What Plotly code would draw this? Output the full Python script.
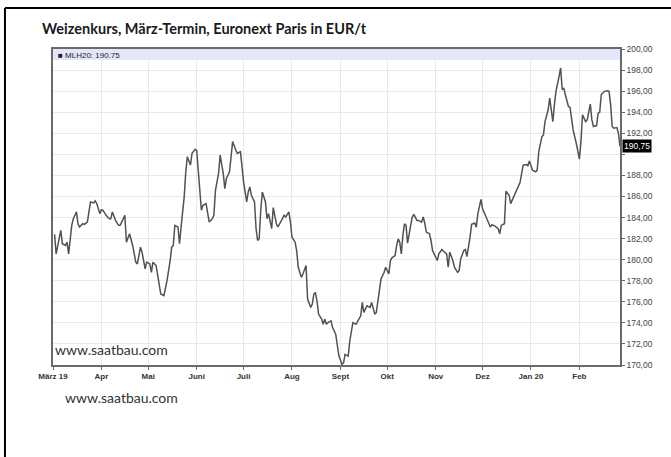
import plotly.graph_objects as go

# ---- data (MLH20 wheat future, EUR/t) ----
dates = [
    "2019-03-02","2019-03-03","2019-03-06","2019-03-07","2019-03-09","2019-03-10","2019-03-11","2019-03-13","2019-03-14","2019-03-16","2019-03-17","2019-03-18","2019-03-20","2019-03-21","2019-03-23","2019-03-24","2019-03-25","2019-03-27","2019-03-28","2019-03-29","2019-03-31",
    "2019-04-01","2019-04-02","2019-04-04","2019-04-06","2019-04-07","2019-04-08","2019-04-10","2019-04-12","2019-04-13","2019-04-15","2019-04-16","2019-04-17","2019-04-19","2019-04-21","2019-04-23","2019-04-24","2019-04-26","2019-04-27","2019-04-29","2019-04-30",
    "2019-05-02","2019-05-03","2019-05-04","2019-05-06","2019-05-08","2019-05-09","2019-05-11","2019-05-13","2019-05-15","2019-05-16","2019-05-17","2019-05-18","2019-05-20","2019-05-21","2019-05-22","2019-05-24","2019-05-25","2019-05-26","2019-05-28","2019-05-29","2019-05-31",
    "2019-06-01","2019-06-04","2019-06-05","2019-06-07","2019-06-09","2019-06-11","2019-06-12","2019-06-13","2019-06-15","2019-06-16","2019-06-18","2019-06-19","2019-06-20","2019-06-22","2019-06-23","2019-06-24","2019-06-26","2019-06-27","2019-06-29","2019-06-30",
    "2019-07-01","2019-07-03","2019-07-04","2019-07-05","2019-07-06","2019-07-08","2019-07-09","2019-07-10","2019-07-11","2019-07-12","2019-07-13","2019-07-15","2019-07-16","2019-07-17","2019-07-19","2019-07-20","2019-07-22","2019-07-23","2019-07-24","2019-07-26","2019-07-27","2019-07-28","2019-07-29","2019-07-30","2019-07-31",
    "2019-08-01","2019-08-03","2019-08-04","2019-08-05","2019-08-07","2019-08-08","2019-08-10","2019-08-11","2019-08-13","2019-08-14","2019-08-15","2019-08-16","2019-08-17","2019-08-18","2019-08-20","2019-08-21","2019-08-22","2019-08-23","2019-08-24","2019-08-26","2019-08-27","2019-08-29","2019-08-30","2019-08-31",
    "2019-09-02","2019-09-03","2019-09-04","2019-09-06","2019-09-07","2019-09-09","2019-09-11","2019-09-12","2019-09-14","2019-09-15","2019-09-16","2019-09-18","2019-09-20","2019-09-21","2019-09-23","2019-09-24","2019-09-26","2019-09-27","2019-09-29","2019-09-30",
    "2019-10-02","2019-10-03","2019-10-04","2019-10-06","2019-10-07","2019-10-08","2019-10-09","2019-10-10","2019-10-11","2019-10-12","2019-10-13","2019-10-14","2019-10-16","2019-10-17","2019-10-18","2019-10-20","2019-10-21","2019-10-23","2019-10-24","2019-10-25","2019-10-26","2019-10-28","2019-10-29","2019-10-30","2019-10-31",
    "2019-11-02","2019-11-03","2019-11-05","2019-11-06","2019-11-08","2019-11-09","2019-11-10","2019-11-12","2019-11-13","2019-11-15","2019-11-16","2019-11-17","2019-11-19","2019-11-20","2019-11-21","2019-11-23","2019-11-24","2019-11-26","2019-11-27","2019-11-28","2019-11-30",
    "2019-12-01","2019-12-03","2019-12-04","2019-12-06","2019-12-07","2019-12-09","2019-12-11","2019-12-12","2019-12-13","2019-12-15","2019-12-16","2019-12-18","2019-12-19","2019-12-21","2019-12-22","2019-12-24","2019-12-25","2019-12-27","2019-12-29","2019-12-30","2019-12-31",
    "2020-01-02","2020-01-04","2020-01-05","2020-01-06","2020-01-08","2020-01-09","2020-01-10","2020-01-12","2020-01-13","2020-01-15","2020-01-16","2020-01-17","2020-01-19","2020-01-20","2020-01-21","2020-01-22","2020-01-23","2020-01-25","2020-01-26","2020-01-27","2020-01-28","2020-01-30","2020-01-31",
    "2020-02-01","2020-02-02","2020-02-03","2020-02-05","2020-02-06","2020-02-08","2020-02-09","2020-02-10","2020-02-12","2020-02-13","2020-02-14","2020-02-15","2020-02-17","2020-02-19","2020-02-20","2020-02-21","2020-02-22","2020-02-23","2020-02-25","2020-02-26","2020-02-27",
]

prices = [
    182.4,180.55,182.78,181.51,181.35,181.66,180.55,183.26,183.89,184.53,183.41,183.10,183.41,183.35,183.57,184.37,185.48,185.39,185.58,185.32,184.37,
    184.75,184.69,184.21,183.89,183.89,184.53,183.73,183.26,183.26,183.89,184.21,181.66,182.46,181.35,179.76,179.60,181.19,180.71,179.12,179.76,
    179.60,178.80,179.76,179.44,177.69,176.74,176.58,178.01,179.91,181.19,181.35,183.26,183.10,181.51,183.10,185.96,188.34,189.78,188.98,190.09,190.48,
    190.35,184.69,185.16,185.32,183.57,183.89,184.21,186.59,188.18,189.93,188.18,186.75,187.71,188.34,189.93,191.21,190.41,190.09,190.25,188.98,
    187.39,185.48,186.43,186.91,186.12,185.48,182.94,181.82,181.98,184.69,186.43,185.48,183.89,184.37,182.94,184.94,183.41,183.10,183.41,183.89,184.21,184.05,184.37,184.53,183.57,
    182.14,181.66,180.87,179.28,178.32,178.64,179.44,176.26,175.46,175.78,176.73,176.89,176.10,174.83,174.35,173.87,174.35,173.87,174.03,174.19,173.55,172.92,171.96,170.9,
    170.05,170.21,171.01,170.85,172.28,174.03,173.87,174.19,174.67,175.94,174.99,175.62,175.46,175.94,174.83,174.99,177.37,178.17,178.80,179.28,
    178.64,179.92,180.17,180.39,181.35,181.98,181.66,180.55,182.30,183.41,183.25,181.57,183.25,184.05,184.30,183.73,183.73,183.57,184.05,183.48,182.62,182.46,181.82,180.87,180.55,
    179.92,180.55,180.96,180.80,180.55,179.28,180.71,179.92,179.28,178.80,178.96,180.07,180.87,180.96,180.30,182.14,183.35,183.48,183.09,184.37,185.73,
    184.84,184.21,183.89,183.10,183.32,183.19,182.94,182.46,183.25,183.41,186.50,186.12,185.32,185.96,186.43,186.91,187.32,188.97,189.04,188.91,189.36,
    188.50,188.34,188.50,190.25,191.68,191.84,193.11,194.23,195.34,193.11,194.70,195.98,197.41,198.20,196.14,196.29,195.66,194.55,194.45,193.11,192.32,191.05,190.25,
    189.55,191.21,193.75,193.11,193.27,194.77,193.27,192.64,192.73,193.91,194.00,195.66,195.98,196.04,195.98,194.70,192.64,192.48,192.54,192.00,190.75,
]

month_ticks = ["2019-03-01","2019-04-01","2019-05-01","2019-06-01","2019-07-01","2019-08-01",
               "2019-09-01","2019-10-01","2019-11-01","2019-12-01","2020-01-01","2020-02-01"]
month_labels = ["März 19","Apr","Mai","Juni","Juli","Aug","Sept","Okt","Nov","Dez","Jan 20","Feb"]

y_ticks = [170,172,174,176,178,180,182,184,186,188,190,192,194,196,198,200]
y_labels = ["170,00","172,00","174,00","176,00","178,00","180,00","182,00","184,00",
            "186,00","188,00","","192,00","194,00","196,00","198,00","200,00"]

last_price = 190.75
title_text = "Weizenkurs, März-Termin, Euronext Paris in EUR/t"
legend_text = "■ MLH20: 190.75"
last_label = "190,75"
watermark = "www.saatbau.com"

fig = go.Figure()
fig.add_trace(go.Scatter(x=dates, y=prices, mode="lines",
                         line=dict(color="#525252", width=1.5),
                         showlegend=False, hoverinfo="x+y"))

grid = "#e9e9e9"
axis_line = "#6a6a6a"
fig.update_layout(
    width=671, height=457,
    margin=dict(l=53, r=51, t=49, b=92),
    paper_bgcolor="white", plot_bgcolor="white",
    font=dict(family="Liberation Sans, Arial, sans-serif", color="#444"),
    xaxis=dict(type="date", range=["2019-03-01", "2020-02-27"],
               tickvals=month_ticks, ticktext=month_labels,
               tickfont=dict(size=8, color="#333", weight="bold"),
               showgrid=True, gridcolor=grid, gridwidth=1,
               showline=True, linecolor=axis_line, linewidth=1.5, mirror=True,
               ticks="outside", ticklen=3, tickcolor=axis_line, zeroline=False),
    yaxis=dict(range=[170, 200], side="right",
               tickvals=y_ticks, ticktext=y_labels,
               tickfont=dict(size=8.5, color="#444"),
               showgrid=True, gridcolor=grid, gridwidth=1,
               showline=True, linecolor=axis_line, linewidth=1.5, mirror=True,
               ticks="outside", ticklen=3, tickcolor=axis_line, zeroline=False),
)

# legend band at top of plot area
fig.add_shape(type="rect", xref="paper", yref="paper", x0=0, x1=1, y0=1 - 11 / 316, y1=1,
              fillcolor="#e6e6fa", line=dict(width=0), layer="below")

# outer frame (left and top borders)
fig.add_shape(type="line", xref="paper", yref="paper", x0=-0.0847, x1=-0.0847, y0=1.1297, y1=-0.4,
              line=dict(color="black", width=2))
fig.add_shape(type="line", xref="paper", yref="paper", x0=-0.0847, x1=1.2, y0=1.1297, y1=1.1297,
              line=dict(color="black", width=2))

fig.add_annotation(text=title_text, xref="paper", yref="paper", x=-0.0229, y=1.066,
                   xanchor="left", yanchor="middle", showarrow=False,
                   font=dict(family="Lato, sans-serif", size=14.5, color="#1a1a1a", weight="bold"))
fig.add_annotation(text=legend_text, xref="paper", yref="paper", x=0, y=1, xshift=3, yshift=0,
                   xanchor="left", yanchor="top", showarrow=False,
                   font=dict(size=8, color="#222"))
fig.add_annotation(text=last_label, xref="paper", yref="y", x=1, y=last_price, xshift=2,
                   xanchor="left", yanchor="middle", showarrow=False,
                   bgcolor="black", borderpad=1,
                   font=dict(size=8.5, color="white"))
fig.add_annotation(text=watermark, xref="paper", yref="paper", x=0, y=0.05,
                   xanchor="left", yanchor="middle", showarrow=False,
                   font=dict(family="Lato, sans-serif", size=14, color="#333"))
fig.add_annotation(text=watermark, xref="paper", yref="paper", x=0.0176, y=-0.104,
                   xanchor="left", yanchor="middle", showarrow=False,
                   font=dict(family="Lato, sans-serif", size=14, color="#333"))

fig.write_html("out.html", config={"displayModeBar": False},
               post_script="document.body.style.margin='0';document.body.style.padding='0';")
